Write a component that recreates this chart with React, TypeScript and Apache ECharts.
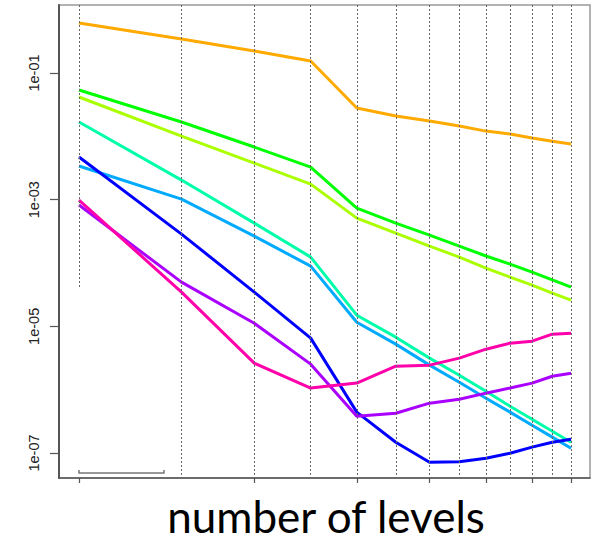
import React, { useEffect, useRef } from "react";
import * as echarts from "echarts";

const levels = [2, 3, 4, 5, 6, 7, 8, 9, 10, 11, 12, 13, 14];
const xTickValues = [2, 4, 6, 8, 10, 12, 14];
const yTickValues = [1e-1, 1e-3, 1e-5, 1e-7];
const yTickLabels = ["1e-01", "1e-03", "1e-05", "1e-07"];
const xTitle = "number of levels";

const orange = [0.617, 0.344, 0.223, 0.155, 0.028, 0.0209, 0.0175, 0.0146, 0.0121, 0.0109, 0.0094, 0.0084, 0.00755];
const yellowGreen = [0.0418, 0.0101, 0.00379, 0.00176, 5.12e-4, 2.97e-4, 1.85e-4, 1.24e-4, 8.3e-5, 5.98e-5, 4.48e-5, 3.34e-5, 2.59e-5];
const green = [0.0539, 0.01683, 0.00678, 0.00327, 7.37e-4, 4.27e-4, 2.76e-4, 1.85e-4, 1.29e-4, 9.6e-5, 7.2e-5, 5.4e-5, 4.16e-5];
const aquamarine = [0.01683, 0.00204, 4.27e-4, 1.24e-4, 1.5e-5, 6.75e-6, 3.15e-6, 1.69e-6, 9.46e-7, 5.48e-7, 3.42e-7, 2.21e-7, 1.48e-7];
const skyBlue = [0.0034, 0.00102, 2.66e-4, 8.93e-5, 1.16e-5, 5.24e-6, 2.44e-6, 1.31e-6, 7.34e-7, 4.42e-7, 2.75e-7, 1.78e-7, 1.19e-7];
const blue = [0.00471, 2.86e-4, 3.47e-5, 6.52e-6, 4.42e-7, 1.48e-7, 7.16e-8, 7.3e-8, 8.28e-8, 9.93e-8, 1.24e-7, 1.48e-7, 1.65e-7];
const purple = [8.22e-4, 4.99e-5, 1.12e-5, 2.53e-6, 3.81e-7, 4.25e-7, 6.12e-7, 7.08e-7, 8.81e-7, 1.06e-6, 1.27e-6, 1.63e-6, 1.82e-6];
const pink = [9.86e-4, 3.47e-5, 2.62e-6, 1.06e-6, 1.27e-6, 2.35e-6, 2.44e-6, 3.15e-6, 4.36e-6, 5.43e-6, 5.83e-6, 7.53e-6, 7.81e-6];

const seriesList = [
  { name: "orange", color: "#FFAA00", values: orange },
  { name: "yellowgreen", color: "#AAFF00", values: yellowGreen },
  { name: "green", color: "#00FF00", values: green },
  { name: "aquamarine", color: "#00FFAA", values: aquamarine },
  { name: "skyblue", color: "#00AAFF", values: skyBlue },
  { name: "blue", color: "#0000FF", values: blue },
  { name: "purple", color: "#AA00FF", values: purple },
  { name: "pink", color: "#FF00AA", values: pink },
];

const X_MIN = 1.848;
const X_MAX = 15.09;
const Y_MIN = 4.03e-8;
const Y_MAX = 1.186;
const FIRST_GRID_END = 4.0e-5;

export default function App() {
  const ref = useRef<HTMLDivElement>(null);
  useEffect(() => {
    if (!ref.current) return;
    const chart = echarts.init(ref.current, undefined, { renderer: "svg" });
    const gridLineStyle = { color: "#666", width: 1, type: [2, 2] as any };
    const option: any = {
      animation: false,
      grid: {
        left: 59,
        top: 5,
        right: 4,
        bottom: 63,
        show: true,
        borderColor: "#999",
        borderWidth: 1.5,
      },
      xAxis: {
        type: "log",
        logBase: 10,
        min: X_MIN,
        max: X_MAX,
        axisLine: { show: true, onZero: false, lineStyle: { color: "#555", width: 1.5 } },
        axisTick: {
          show: true,
          customValues: xTickValues,
          length: 5,
          lineStyle: { color: "#555", width: 1.2 },
        },
        axisLabel: { show: false },
        splitLine: { show: false },
        minorTick: { show: false },
      },
      yAxis: {
        type: "log",
        logBase: 10,
        min: Y_MIN,
        max: Y_MAX,
        axisLine: { show: true, onZero: false, lineStyle: { color: "#555", width: 2 } },
        axisTick: {
          show: true,
          customValues: yTickValues,
          length: 9,
          lineStyle: { color: "#555", width: 1.2 },
        },
        axisLabel: {
          show: true,
          customValues: yTickValues,
          rotate: 90,
          margin: 18,
          fontFamily: "Liberation Sans",
          fontSize: 14.5,
          color: "#222",
          formatter: (v: number) => {
            let best = 0;
            let bestD = Infinity;
            yTickValues.forEach((t, i) => {
              const d = Math.abs(Math.log10(t) - Math.log10(v));
              if (d < bestD) {
                bestD = d;
                best = i;
              }
            });
            return yTickLabels[best];
          },
        },
        splitLine: { show: false },
      },
      series: [
        {
          type: "line",
          name: "gridlines",
          data: [],
          silent: true,
          markLine: {
            silent: true,
            symbol: ["none", "none"],
            label: { show: false },
            lineStyle: gridLineStyle,
            emphasis: { disabled: true },
            data: [
              [
                { coord: [levels[0], Y_MAX] },
                { coord: [levels[0], FIRST_GRID_END] },
              ],
              ...levels.slice(1).map((x) => [
                { coord: [x, Y_MAX] },
                { coord: [x, Y_MIN] },
              ]),
            ],
          },
        },
        ...seriesList.map((s) => ({
          type: "line",
          name: s.name,
          data: levels.map((x, i) => [x, s.values[i]]),
          showSymbol: false,
          symbol: "none",
          lineStyle: { color: s.color, width: 3 },
          itemStyle: { color: s.color },
          silent: true,
        })),
      ],
      graphic: [
        {
          type: "polyline",
          shape: { points: [[79, 470], [79, 473], [164, 473], [164, 470]] },
          style: { stroke: "#777", lineWidth: 1.5, fill: null },
          silent: true,
        },
        {
          type: "text",
          x: 326,
          y: 516,
          style: {
            text: xTitle,
            textAlign: "center",
            textVerticalAlign: "middle",
            fontFamily: "Lato",
            fontSize: 44,
            lineHeight: 44,
            fill: "#000",
          },
        },
      ],
    };
    chart.setOption(option);
    return () => chart.dispose();
  }, []);
  return (
    <div
      ref={ref}
      style={{ position: "absolute", left: 0, top: 0, width: 594, height: 541, background: "#fff" }}
    />
  );
}
